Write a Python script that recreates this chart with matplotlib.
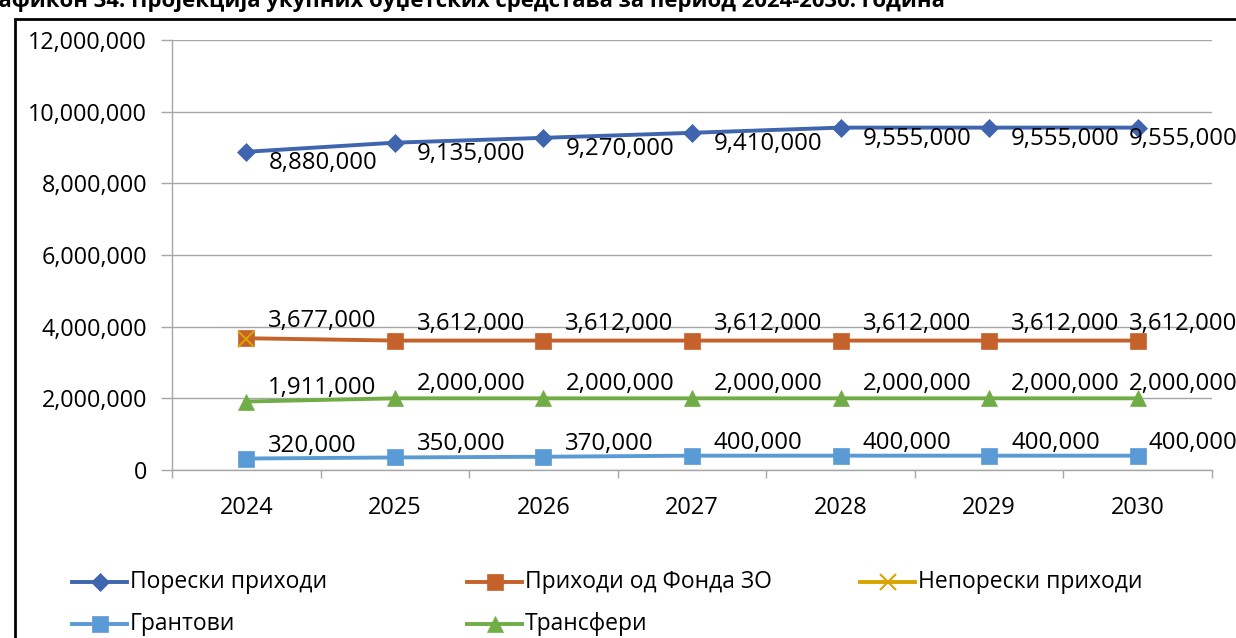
import numpy as np
import matplotlib
matplotlib.use('Agg')
import matplotlib.pyplot as plt
from matplotlib.lines import Line2D
from matplotlib.patches import Rectangle
from matplotlib.ticker import FuncFormatter

plt.rcParams['font.family'] = ['Open Sans', 'DejaVu Sans']

# Data
years = ['2024', '2025', '2026', '2027', '2028', '2029', '2030']
poreski = [8880000, 9135000, 9270000, 9410000, 9555000, 9555000, 9555000]
fond_zo = [3677000, 3612000, 3612000, 3612000, 3612000, 3612000, 3612000]
neporeski = [3650000, np.nan, np.nan, np.nan, np.nan, np.nan, np.nan]
grantovi = [320000, 350000, 370000, 400000, 400000, 400000, 400000]
transferi = [1911000, 2000000, 2000000, 2000000, 2000000, 2000000, 2000000]

names = ['Порески приходи', 'Приходи од Фонда ЗО', 'Непорески приходи',
         'Грантови', 'Трансфери']
title = 'Графикон 34: Пројекција укупних буџетских средстава за период 2024-2030. година'

W, H = 1236, 638
fig = plt.figure(figsize=(W / 100, H / 100), dpi=100)
ax = fig.add_axes([172 / W, 1 - 470 / H, (1212 - 172) / W, (470 - 40) / H])

x = np.arange(len(years))
styles = [
    (poreski, '#3F65AE', 'D', 9, -11),
    (fond_zo, '#C5622B', 's', 11, 17),
    (neporeski, '#D9A300', 'x', 11, None),
    (grantovi, '#5B9BD5', 's', 11, 13),
    (transferi, '#70AD47', '^', 12, 14),
]

for (vals, col, mk, ms, dy) in styles:
    ax.plot(x, vals, color=col, lw=2.8, marker=mk, markersize=ms,
            markeredgewidth=1.5 if mk == 'x' else 0.5, markeredgecolor=col,
            solid_capstyle='butt', clip_on=False, zorder=3)
    if dy is None:
        continue
    for i, v in enumerate(vals):
        if i < len(vals) - 1:
            ax.annotate(f'{v:,.0f}', (x[i], v), xytext=(22 * 0.72, dy * 0.72),
                        textcoords='offset points', ha='left', va='center',
                        fontsize=17.3, color='black', zorder=4, annotation_clip=False)
        else:
            ax.annotate(f'{v:,.0f}', (x[i], v), xytext=(100 * 0.72, dy * 0.72),
                        textcoords='offset points', ha='right', va='center',
                        fontsize=17.3, color='black', zorder=4, annotation_clip=False)

ax.set_xlim(-0.5, len(years) - 0.5)
ax.set_ylim(0, 12000000)
ax.set_yticks(np.arange(0, 12000001, 2000000))
ax.yaxis.set_major_formatter(FuncFormatter(lambda v, p: f'{v:,.0f}'))
ax.set_xticks(x)
ax.set_xticklabels(years)
ax.set_xticks(np.arange(-0.5, len(years), 1), minor=True)

ax.grid(axis='y', color='#A6A6A6', lw=1)
ax.set_axisbelow(True)
for s in ['top', 'right']:
    ax.spines[s].set_visible(False)
for s in ['left', 'bottom']:
    ax.spines[s].set_color('#A6A6A6')
    ax.spines[s].set_linewidth(1)

ax.tick_params(axis='y', length=8, width=1, color='#A6A6A6', pad=10, labelsize=16.8)
ax.tick_params(axis='x', which='major', length=0, pad=19, labelsize=17)
ax.tick_params(axis='x', which='minor', length=6, width=1, color='#A6A6A6')

# outer border
fig.add_artist(Rectangle((15 / W, -0.1), 1.2, 1 - 19 / H + 0.1,
                         transform=fig.transFigure, fill=False,
                         edgecolor='black', lw=2))

# title (clipped at the top like in the source)
fig.text(945 / W, 1 - 7 / H, title, ha='right', va='baseline',
         fontsize=15.9, fontweight='bold')

# legend laid out row by row
leg_pos = [(72, 582), (467, 582), (860, 582), (72, 624), (467, 624)]
for (px, py), name, (vals, col, mk, ms, dy) in zip(leg_pos, names, styles):
    yf = 1 - py / H
    fig.add_artist(Line2D([px / W, (px + 55) / W], [yf, yf], color=col, lw=2.8,
                          transform=fig.transFigure))
    fig.add_artist(Line2D([(px + 27.5) / W], [yf], color=col, marker=mk,
                          markersize=ms, markeredgewidth=1.5 if mk == 'x' else 0.5,
                          markeredgecolor=col, transform=fig.transFigure))
    fig.text((px + 58) / W, yf, name, ha='left', va='center', fontsize=16.5)

fig.savefig('out.png', dpi=100)
